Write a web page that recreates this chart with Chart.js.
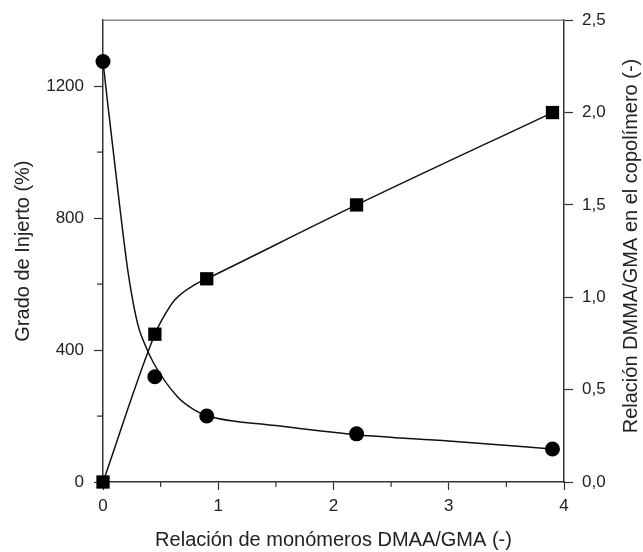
<!DOCTYPE html>
<html>
<head>
<meta charset="utf-8">
<script src="https://cdn.jsdelivr.net/npm/chart.js@4/dist/chart.umd.min.js"></script>
<style>
	html, body { margin: 0; padding: 0; background: #fff; }
	#wrap { width: 643px; height: 552px; }
</style>
</head>
<body>
<div id="wrap"><canvas id="chart" width="643" height="552"></canvas></div>
<script>
// measured points
const gradoX = [0, 0.45, 0.9, 2.2, 3.9]
const gradoY = [1275, 319, 200, 146, 100]
const relX = [0, 0.45, 0.9, 2.2, 3.9]
const relY = [0, 0.8, 1.1, 1.5, 2.0]

// fitted curves
const gradoFitX = [0, 0.04, 0.14, 0.22, 0.30, 0.35, 0.44, 0.65, 0.8, 0.9, 1.5, 2.2, 3.0, 3.9]
const gradoFitY = [1275, 1150, 851, 630, 480, 428, 360, 257, 217, 201, 171, 143, 124, 100]
const relFitX = [0, 0.45, 0.51, 0.62, 0.8, 0.9, 2.2, 3.9]
const relFitY = [0, 0.8, 0.876, 0.984, 1.07, 1.1, 1.5, 2.0]

// minor tick positions
const xMinor = [0.5, 1.5, 2.5, 3.5]
const yMinor = [200, 600, 1000]

const rightTitle = 'Relación DMMA/GMA en el copolímero (-)'

const toXY = (xs, ys) => xs.map((x, i) => ({ x: x, y: ys[i] }))

const axisColor = '#333'
const textColor = '#222'
const family = "'Liberation Sans', Arial, sans-serif"
const tickFont = { family: family, size: 17 }
const titleFont = { family: family, size: 20 }

const extras = {
	id: 'extras',
	afterDraw(chart) {
		const ctx = chart.ctx
		const area = chart.chartArea
		const xs = chart.scales.x
		const ys = chart.scales.y
		ctx.save()
		ctx.strokeStyle = axisColor
		ctx.lineWidth = 1.2
		ctx.beginPath()
		xMinor.forEach(v => {
			const px = xs.getPixelForValue(v)
			ctx.moveTo(px, area.bottom)
			ctx.lineTo(px, area.bottom + 5)
		})
		yMinor.forEach(v => {
			const py = ys.getPixelForValue(v)
			ctx.moveTo(area.left, py)
			ctx.lineTo(area.left - 6, py)
		})
		ctx.stroke()
		// top frame line
		ctx.strokeStyle = '#888'
		ctx.lineWidth = 1.5
		ctx.beginPath()
		ctx.moveTo(area.left, area.top)
		ctx.lineTo(area.right, area.top)
		ctx.stroke()
		// right axis title, reading upwards
		ctx.translate(631, 246)
		ctx.rotate(-Math.PI / 2)
		ctx.fillStyle = textColor
		ctx.font = '20px ' + family
		ctx.textAlign = 'center'
		ctx.textBaseline = 'middle'
		ctx.fillText(rightTitle, 0, 0)
		ctx.restore()
	}
}

new Chart(document.getElementById('chart'), {
	type: 'scatter',
	data: {
		datasets: [
			{
				data: toXY(gradoX, gradoY),
				yAxisID: 'y',
				pointStyle: 'circle',
				pointRadius: 7.5,
				pointHoverRadius: 7.5,
				backgroundColor: '#000',
				borderColor: '#000',
				borderWidth: 0,
				clip: false
			},
			{
				data: toXY(relX, relY),
				yAxisID: 'y1',
				pointStyle: 'rect',
				pointRadius: 9.4,
				pointHoverRadius: 9.4,
				backgroundColor: '#000',
				borderColor: '#000',
				borderWidth: 0,
				clip: false
			},
			{
				data: toXY(gradoFitX, gradoFitY),
				yAxisID: 'y',
				showLine: true,
				pointRadius: 0,
				borderColor: '#111',
				borderWidth: 1.5,
				cubicInterpolationMode: 'monotone'
			},
			{
				data: toXY(relFitX, relFitY),
				yAxisID: 'y1',
				showLine: true,
				pointRadius: 0,
				borderColor: '#111',
				borderWidth: 1.5,
				cubicInterpolationMode: 'monotone'
			}
		]
	},
	options: {
		responsive: false,
		animation: false,
		events: [],
		layout: { padding: { top: 20, left: 0, right: 0, bottom: 0 } },
		plugins: {
			legend: { display: false },
			tooltip: { enabled: false }
		},
		scales: {
			x: {
				type: 'linear',
				min: 0,
				max: 4,
				afterFit: s => { s.height = 70 },
				ticks: { stepSize: 1, color: textColor, font: tickFont, padding: 6 },
				grid: { drawOnChartArea: false, tickLength: 8, color: axisColor, tickWidth: 1.2 },
				border: { color: axisColor, width: 1.5 },
				title: {
					display: true,
					text: 'Relación de monómeros DMAA/GMA (-)',
					color: textColor,
					font: titleFont,
					padding: { top: 0, bottom: 0 }
				}
			},
			y: {
				position: 'left',
				min: 0,
				max: 1400,
				afterFit: s => { s.width = 103 },
				ticks: {
					stepSize: 400,
					includeBounds: false,
					color: textColor,
					font: tickFont,
					padding: 10,
					callback: v => String(v)
				},
				grid: { drawOnChartArea: false, tickLength: 9, color: axisColor, tickWidth: 1.2 },
				border: { color: axisColor, width: 1.5 },
				title: {
					display: true,
					text: 'Grado de Injerto (%)',
					color: textColor,
					font: titleFont,
					padding: { top: 11, bottom: 0 }
				}
			},
			y1: {
				position: 'right',
				min: 0,
				max: 2.5,
				afterFit: s => { s.width = 79 },
				ticks: {
					stepSize: 0.5,
					color: textColor,
					font: tickFont,
					padding: 9,
					callback: v => v.toFixed(1).replace('.', ',')
				},
				grid: { drawOnChartArea: false, tickLength: 9, color: axisColor, tickWidth: 1.2 },
				border: { color: axisColor, width: 1.5 }
			}
		}
	},
	plugins: [extras]
})
</script>
</body>
</html>
